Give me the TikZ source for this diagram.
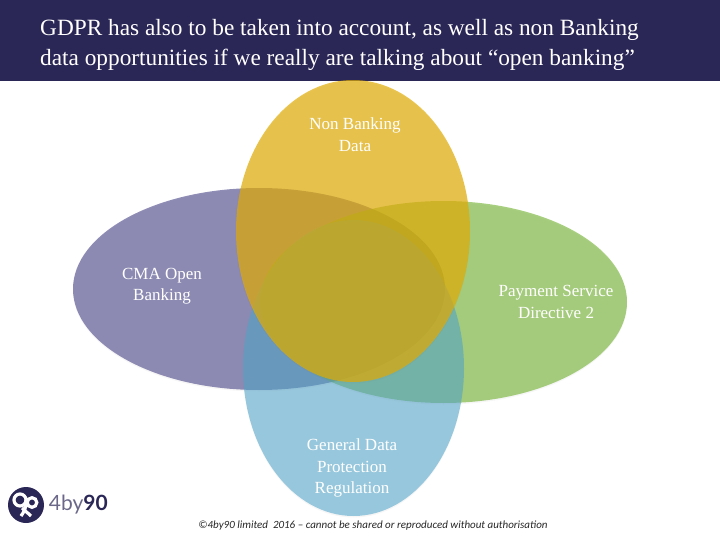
\documentclass[tikz,border=0pt]{standalone}
\usepackage{fontspec}
\setmainfont{Liberation Serif}
\newfontfamily\footfont{Carlito}
\newfontfamily\logofont{Lato}
\usetikzlibrary{positioning, shapes.geometric, shadows}
\definecolor{banner}{HTML}{2A2656}
\definecolor{cmaviolet}{HTML}{5F5B95}
\definecolor{psdgreen}{HTML}{6EAF2B}
\definecolor{gdprblue}{HTML}{50A4C9}
\definecolor{nonyellow}{HTML}{E0AB04}
\tikzset{
    blob/.style={ellipse, inner sep=0pt, draw=none,
        drop shadow={shadow xshift=0pt, shadow yshift=-1.5pt, opacity=0.07}},
    blobtext/.style={text=white, align=center, font=\fontsize{17}{21.5}\selectfont},
    logoline/.style={draw=white, line width=3.2pt}
}
\begin{document}
\begin{tikzpicture}[x=1pt, y=-1pt]
    \useasboundingbox (0,0) rectangle (720,540);
    \fill[banner] (0,0) rectangle (720,81);

    \node[blob, fill=cmaviolet, fill opacity=0.7, minimum width=372pt, minimum height=202pt] (cma) at (259,289) {};
    \node[blob, fill=psdgreen, fill opacity=0.6, minimum width=367pt, minimum height=202pt] (psd) at (443.5,302) {};
    \node[blob, fill=gdprblue, fill opacity=0.57, minimum width=221pt, minimum height=296pt] (gdpr) at (353.5,368) {};
    \node[blob, fill=nonyellow, fill opacity=0.7, minimum width=234pt, minimum height=302pt] (non) at (353,231) {};

    \node[blobtext] (nontext) at (355,134.5) {Non Banking\\Data};
    \node[blobtext] (cmatext) at (162,286) {CMA Open\\Banking};
    \node[blobtext] (psdtext) at (556,302) {Payment Service\\Directive 2};
    \node[blobtext] (gdprtext) at (352,468) {General Data\\Protection\\Regulation};

    \node[text=white, anchor=west, align=left, inner sep=0pt,
        font=\fontsize{23.3}{30}\selectfont] (title) at (40,44.5)
        {GDPR has also to be taken into account, as well as non Banking\\
         data opportunities if we really are talking about “open banking”};

    \node[font=\footfont\itshape\fontsize{11}{12}\selectfont, text=black!85] (foot) at (373,526)
        {©4by90 limited\ \ 2016 – cannot be shared or reproduced without authorisation};

    % logo
    \node[circle, fill=banner, minimum size=36pt, inner sep=0pt] (badge) at (26,505) {};
    \draw[logoline] (20,500) circle (6pt);
    \draw[logoline] (32,502.5) circle (4.8pt);
    \draw[logoline] (26,500) .. controls (27,508) and (23,513) .. (21,516);
    \draw[logoline] (22,508) .. controls (25,511) and (28,513) .. (31,516);
    \node[right=4.5pt of badge, inner sep=0pt, font=\logofont\fontsize{21}{21}\selectfont, text=banner] (brand)
        {\textcolor{banner!70}{4by}\textbf{90}};
\end{tikzpicture}
\end{document}
